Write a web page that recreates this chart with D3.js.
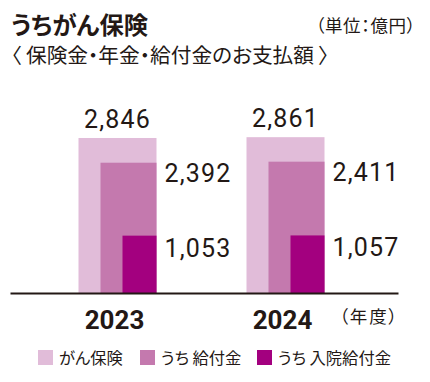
<!DOCTYPE html>
<html><head><meta charset="utf-8">
<script src="https://cdn.jsdelivr.net/npm/d3@7"></script>
<style>
html,body{margin:0;padding:0;background:#fff;}
svg{display:block;}
.jp{font-family:"Noto Sans CJK JP","Noto Sans",sans-serif;font-feature-settings:"palt" 1;}
.num{font-family:Roboto,"DejaVu Sans Condensed",sans-serif;}
</style></head>
<body>
<script>
const years = ["2023", "2024"];
const series = ["がん保険", "うち 給付金", "うち 入院給付金"];
const cancerTotal = [2846, 2861];
const benefits = [2392, 2411];
const hospital = [1053, 1057];
const colors = ["#e1bcd9", "#c479ae", "#a3007f"];

const W = 430, H = 382;
const svg = d3.select("body").append("svg").attr("width", W).attr("height", H);
const textColor = "#231815";

const y = d3.scaleLinear().domain([0, 3000]).range([293, 129.6]);
const x = d3.scalePoint().domain(years).range([117.5, 285.5]);
const widths = [78, 56, 34];
const values = [cancerTotal, benefits, hospital];
const fmt = d3.format(",");

// title
svg.append("text").attr("class","jp").attr("x",11).attr("y",34)
  .attr("font-size",24.3).attr("font-weight",700).attr("fill",textColor).text("うちがん保険");
svg.append("text").attr("class","jp").attr("x",416).attr("y",32).attr("text-anchor","end")
  .attr("font-size",17.5).attr("letter-spacing",0.6).attr("fill",textColor).text("（単位：億円）");
svg.append("text").attr("class","jp").attr("x",11).attr("y",63)
  .attr("font-size",20.7).attr("fill",textColor).text("〈 保険金・年金・給付金のお支払額 〉");

// bars
values.forEach((arr, si) => {
  svg.append("g").selectAll("rect").data(years).join("rect")
    .attr("x", (d,i) => x(d) + widths[0]/2 - widths[si])
    .attr("width", widths[si])
    .attr("y", (d,i) => y(arr[i]))
    .attr("height", (d,i) => y(0) - y(arr[i]))
    .attr("fill", colors[si]);
});

// labels
const lab = svg.append("g").attr("class","num").attr("fill",textColor).attr("font-size",25).attr("font-weight",400);
years.forEach((yr, i) => {
  lab.append("text").attr("x", x(yr)).attr("y", y(cancerTotal[i]) - 10)
    .attr("text-anchor","middle").attr("letter-spacing",1.2).text(fmt(cancerTotal[i]));
  lab.append("text").attr("x", x(yr) + widths[0]/2 + 8).attr("y", y(benefits[i]) + 19)
    .attr("letter-spacing",1.2).text(fmt(benefits[i]));
  lab.append("text").attr("x", x(yr) + widths[0]/2 + 8).attr("y", y(hospital[i]) + 21)
    .attr("letter-spacing",1.2).text(fmt(hospital[i]));
});

// axis
const axis = svg.append("g").attr("transform","translate(0,293)")
  .call(d3.axisBottom(d3.scaleLinear().range([10,398])).ticks(0).tickSize(0).tickFormat(""));
axis.select(".domain").attr("stroke","#231815").attr("stroke-width",2);

svg.append("g").selectAll("text").data(years).join("text")
  .attr("class","num").attr("x", d => x(d) - 3).attr("y", 329)
  .attr("text-anchor","middle").attr("font-size",26).attr("font-weight",700)
  .attr("fill",textColor).text(d => d);
svg.append("text").attr("class","jp").attr("x",399).attr("y",323).attr("text-anchor","end")
  .attr("font-size",17.5).attr("letter-spacing",1.8).attr("fill",textColor).text("（年度）");

// legend
const legX = [38, 140, 257];
const leg = svg.append("g");
series.forEach((s, i) => {
  leg.append("rect").attr("x", legX[i]).attr("y", 350).attr("width",15).attr("height",15).attr("fill",colors[i]);
  leg.append("text").attr("class","jp").attr("x", legX[i] + 21).attr("y", 364)
    .attr("font-size",16.3).attr("fill",textColor).text(s);
});
</script>
</body></html>
